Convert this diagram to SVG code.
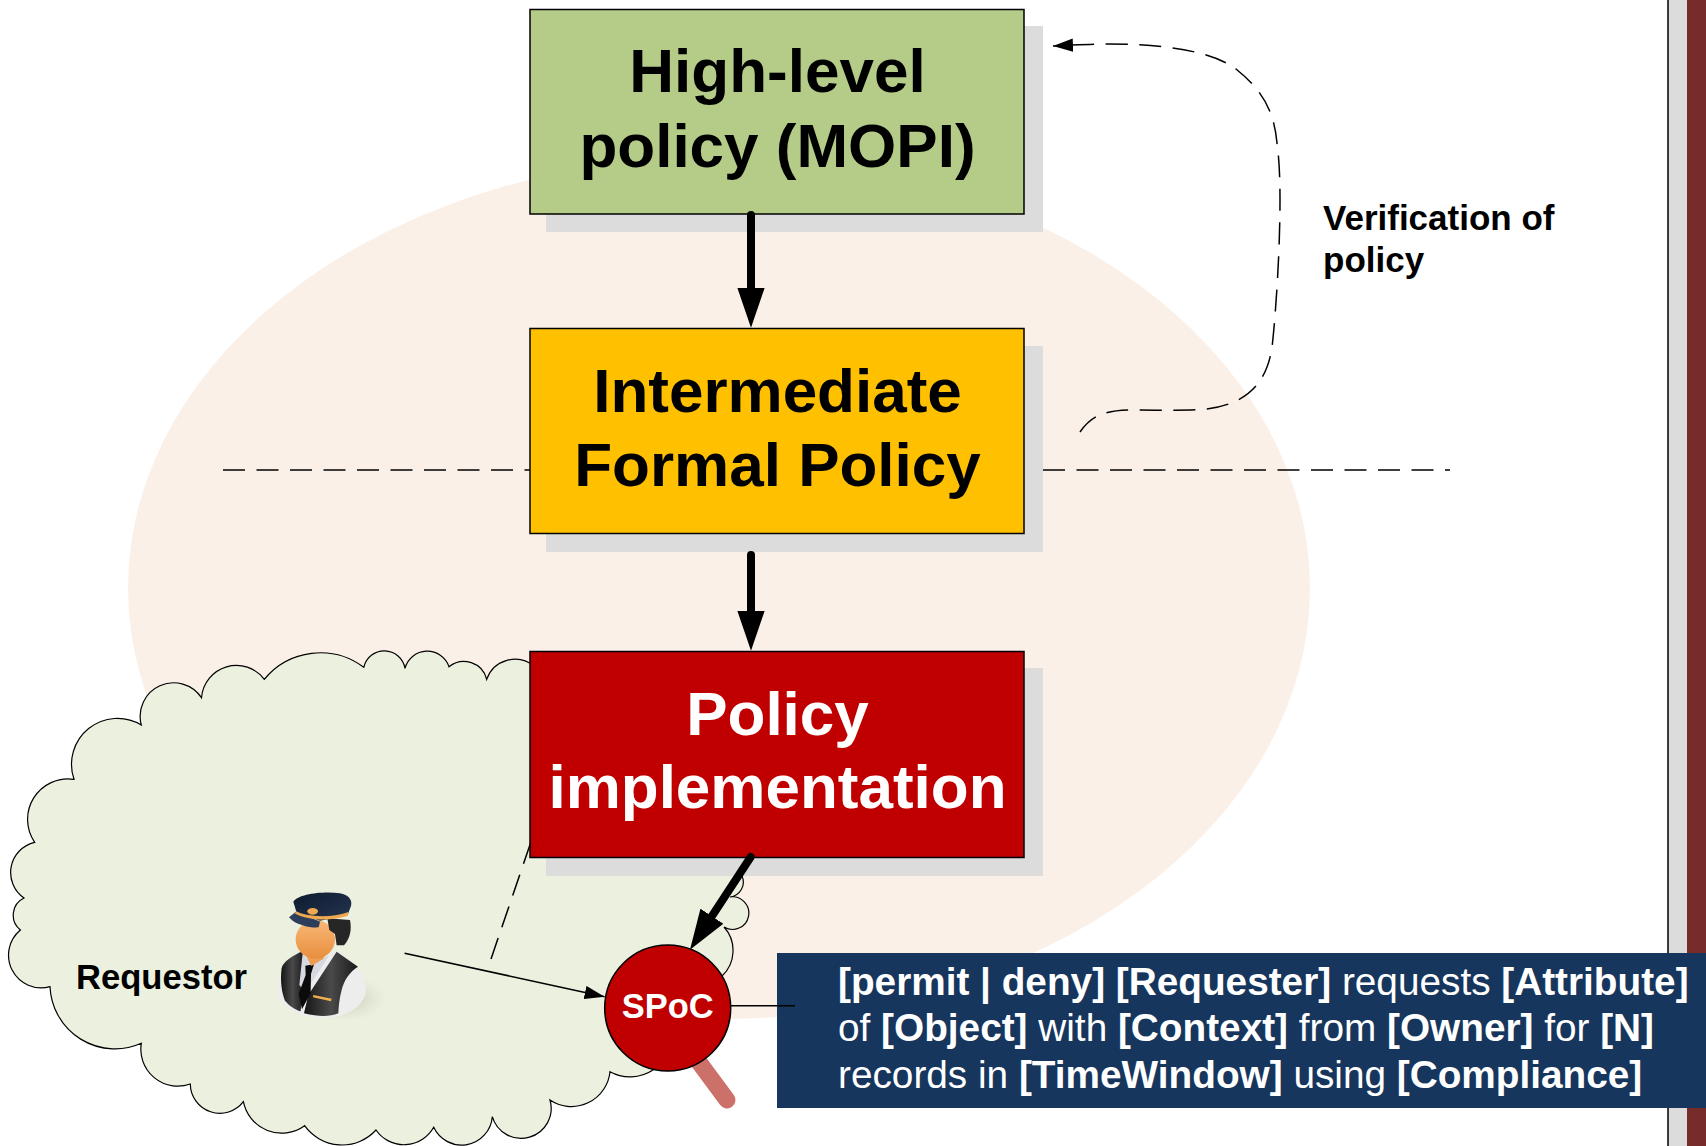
<svg xmlns="http://www.w3.org/2000/svg" width="1706" height="1146" viewBox="0 0 1706 1146">
<style>
text{font-family:"Liberation Sans",Arial,sans-serif;fill:#000}
.b{font-weight:700}
.big{font-size:62px;font-weight:700;text-anchor:middle}
.lab{font-size:35px;font-weight:700}
.w{fill:#fff}
.tpl{font-size:38.750px;fill:#fff}
.box{stroke:#000;stroke-width:1.5}
.sh{fill:#DCDCDC}
.thick{fill:none;stroke:#000;stroke-width:8;stroke-linecap:round}
.thin{fill:none;stroke:#000;stroke-width:1.6}
.dash{fill:none;stroke:#000;stroke-width:1.5;stroke-dasharray:22 11.5}
</style>
<defs>
<marker id="bigHead" markerUnits="userSpaceOnUse" markerWidth="40" markerHeight="28" viewBox="0 0 38 26" refX="4" refY="13" orient="auto"><path d="M0 0L38 13L0 26Z" fill="#000"/></marker>
<marker id="smallHead" markerUnits="userSpaceOnUse" markerWidth="20" markerHeight="14" viewBox="0 0 18 12" refX="18" refY="6" orient="auto"><path d="M0 0L18 6L0 12Z" fill="#000"/></marker>
<linearGradient id="vest" x1="0" x2="1" y1="0" y2="0"><stop offset="0" stop-color="#151515"/><stop offset=".5" stop-color="#4a4a4a"/><stop offset="1" stop-color="#1a1a1a"/></linearGradient>
<linearGradient id="skin" x1="0" x2="0" y1="0" y2="1"><stop offset="0" stop-color="#F9B878"/><stop offset="1" stop-color="#E88F3E"/></linearGradient>
<linearGradient id="capFill" x1="0" x2="1" y1="0" y2="1"><stop offset="0" stop-color="#0E1B30"/><stop offset="1" stop-color="#24354F"/></linearGradient>
<radialGradient id="shade"><stop offset="0" stop-color="#9a9a8c" stop-opacity=".55"/><stop offset="1" stop-color="#c5c8b6" stop-opacity="0"/></radialGradient>
</defs>

<rect id="page-rule" x="1668" y="0" width="19" height="1146" fill="#DCDCDC"/>
<rect id="page-band" x="1687" y="0" width="19" height="1146" fill="#772C2A"/>
<line x1="1668" y1="0" x2="1668" y2="1146" stroke="#000" stroke-width="1.5"/>

<ellipse id="zone" cx="719" cy="588" rx="591" ry="431" fill="#FAF0E8"/>

<path id="cloud" fill="#EBF0DF" stroke="#000" stroke-width="1.2" d="M20.4 930A19 19 0 0 1 24 898A31 31 0 0 1 34.7 842.3A40.5 40.5 0 0 1 74 779.3A46 46 0 0 1 141.3 725A33.5 33.5 0 0 1 201.5 697.7A35 35 0 0 1 264.3 679.3A72.5 72.5 0 0 1 363.8 667.3A21 21 0 0 1 405 668.3A23 23 0 0 1 449 666.7A23.6 23.6 0 0 1 486.7 679.3A30 30 0 0 1 534 666L742 876A15 15 0 0 1 730 897A16.3 16.3 0 1 1 724 927A35 35 0 0 1 722 976L653 1070A41.5 41.5 0 0 1 610 1071.7A38.7 38.7 0 0 1 550 1100A30 30 0 0 1 492.3 1116.7A30.8 30.8 0 0 1 433.7 1127.3A34 34 0 0 1 376 1130A46 46 0 0 1 304.6 1125.7A39 39 0 0 1 243.4 1101.7A29.6 29.6 0 0 1 190.3 1084A37 37 0 0 1 141.3 1043.3A65 65 0 0 1 50 986.7A32.7 32.7 0 0 1 20.4 930Z"/>

<g id="requestor">
<text x="76" y="989" style="font-size:34.600px;font-weight:700">Requestor</text>
</g>
<g id="person" transform="translate(240 870) scale(.3333)">
<ellipse cx="305" cy="385" rx="135" ry="70" fill="url(#shade)"/>
<path d="M190 245C140 270 112 310 112 370C125 420 190 445 250 445C320 442 378 410 378 355C376 320 360 300 345 285L300 245Z" fill="#EDEDED"/>
<path d="M190 243C160 255 128 275 125 295C120 330 125 370 135 392C150 410 165 418 182 424L192 300Z" fill="url(#vest)"/>
<path d="M290 245L354 290C330 305 312 330 305 360C298 385 296 410 295 430C270 440 240 442 192 430L205 375Z" fill="url(#vest)"/>
<path d="M188 250L215 280L268 255L240 300L195 365L178 345Z" fill="#D6DAE0"/>
<path d="M196 287L222 283L213 312L212 370L186 418L176 372L197 315Z" fill="#0B0B0B"/>
<path d="M220 375L275 386L273 394L219 382Z" fill="#F0B050"/>
<path d="M190 240L268 240L248 268L214 288Z" fill="#EE9C50"/>
<ellipse cx="226" cy="208" rx="59" ry="58" fill="url(#skin)"/>
<path d="M262 145L330 150C336 180 330 205 312 226L290 226L285 192L268 180Z" fill="#262626"/>
<path d="M160 95C175 72 250 63 300 70C325 74 338 90 333 108L323 135L240 152L170 128Z" fill="url(#capFill)"/>
<path d="M147 142L170 124L240 155L236 172C208 174 178 165 158 152Z" fill="#2D3E5A"/>
<path d="M168 124C195 138 265 148 325 126L323 138C265 155 205 150 165 131Z" fill="#F0A850"/>
<ellipse cx="218" cy="124" rx="16" ry="10" fill="#F0A850"/>
</g>

<g id="dividers">
<line class="dash" x1="223" y1="470" x2="530" y2="470"/>
<line class="dash" x1="1043" y1="470" x2="1450" y2="470"/>
</g>

<g id="handle"><line x1="690" y1="1050" x2="727" y2="1100" stroke="#CC716A" stroke-width="17" stroke-linecap="round"/></g>

<g id="high-level">
<rect class="sh" x="546" y="26" width="497" height="206"/>
<rect class="box" x="530" y="9.500" width="494" height="204.500" fill="#B5CB88"/>
<text class="big" x="777.500" y="92">High-level</text>
<text class="big" x="777.500" y="166.500">policy (MOPI)</text>
</g>
<g id="intermediate">
<rect class="sh" x="546" y="346" width="497" height="206"/>
<rect class="box" x="530" y="328.500" width="494" height="205" fill="#FFC000"/>
<text class="big" x="777.500" y="411.500">Intermediate</text>
<text class="big" x="777.500" y="486">Formal Policy</text>
</g>
<g id="implementation">
<rect class="sh" x="546" y="668" width="497" height="208"/>
<rect class="box" x="530" y="651.500" width="494" height="206" fill="#C00000"/>
<text class="big w" x="777.500" y="735">Policy</text>
<text class="big w" x="777.500" y="808">implementation</text>
</g>

<g id="connectors">
<path class="dash" d="M530.600 843L491 959"/>
<line class="thick" x1="751" y1="215" x2="751" y2="292" marker-end="url(#bigHead)"/>
<line class="thick" x1="751" y1="555" x2="751" y2="615" marker-end="url(#bigHead)"/>
<line class="thick" x1="750.700" y1="857" x2="709.600" y2="919.700" marker-end="url(#bigHead)"/>
<line class="thin" x1="404.600" y1="953.300" x2="604.600" y2="996.700" marker-end="url(#smallHead)"/>
<path class="dash" d="M1080 432C1092 415 1105 410 1135 410C1160 410 1190 411 1207 409C1245 404 1268 385 1272.500 343C1276 310 1280 250 1280 200C1280 175 1279 158 1277 143C1274 110 1262 90 1236 69C1210 50 1160 44 1108 44C1090 44 1075 45 1053 46" marker-end="url(#smallHead)"/>
</g>

<g id="spoc">
<circle cx="667.700" cy="1008" r="63" fill="#C00000" stroke="#000" stroke-width="1.5"/>
<text x="667.700" y="1018" text-anchor="middle" style="font-size:34.500px;font-weight:700;fill:#fff">SPoC</text>
</g>

<g id="verification">
<text class="lab" x="1323" y="230">Verification of</text>
<text class="lab" x="1323" y="272">policy</text>
</g>

<g id="template">
<rect x="777" y="953" width="929" height="155" fill="#17365D"/>
<line class="thin" x1="731" y1="1005.700" x2="795" y2="1005.700"/>
<text x="838" y="995" class="tpl"><tspan class="b">[permit | deny] [Requester]</tspan> requests <tspan class="b">[Attribute]</tspan></text>
<text x="838" y="1041" class="tpl">of <tspan class="b">[Object]</tspan> with <tspan class="b">[Context]</tspan> from <tspan class="b">[Owner]</tspan> for <tspan class="b">[N]</tspan></text>
<text x="838" y="1087.500" class="tpl">records in <tspan class="b">[TimeWindow]</tspan> using <tspan class="b">[Compliance]</tspan></text>
</g>
</svg>
